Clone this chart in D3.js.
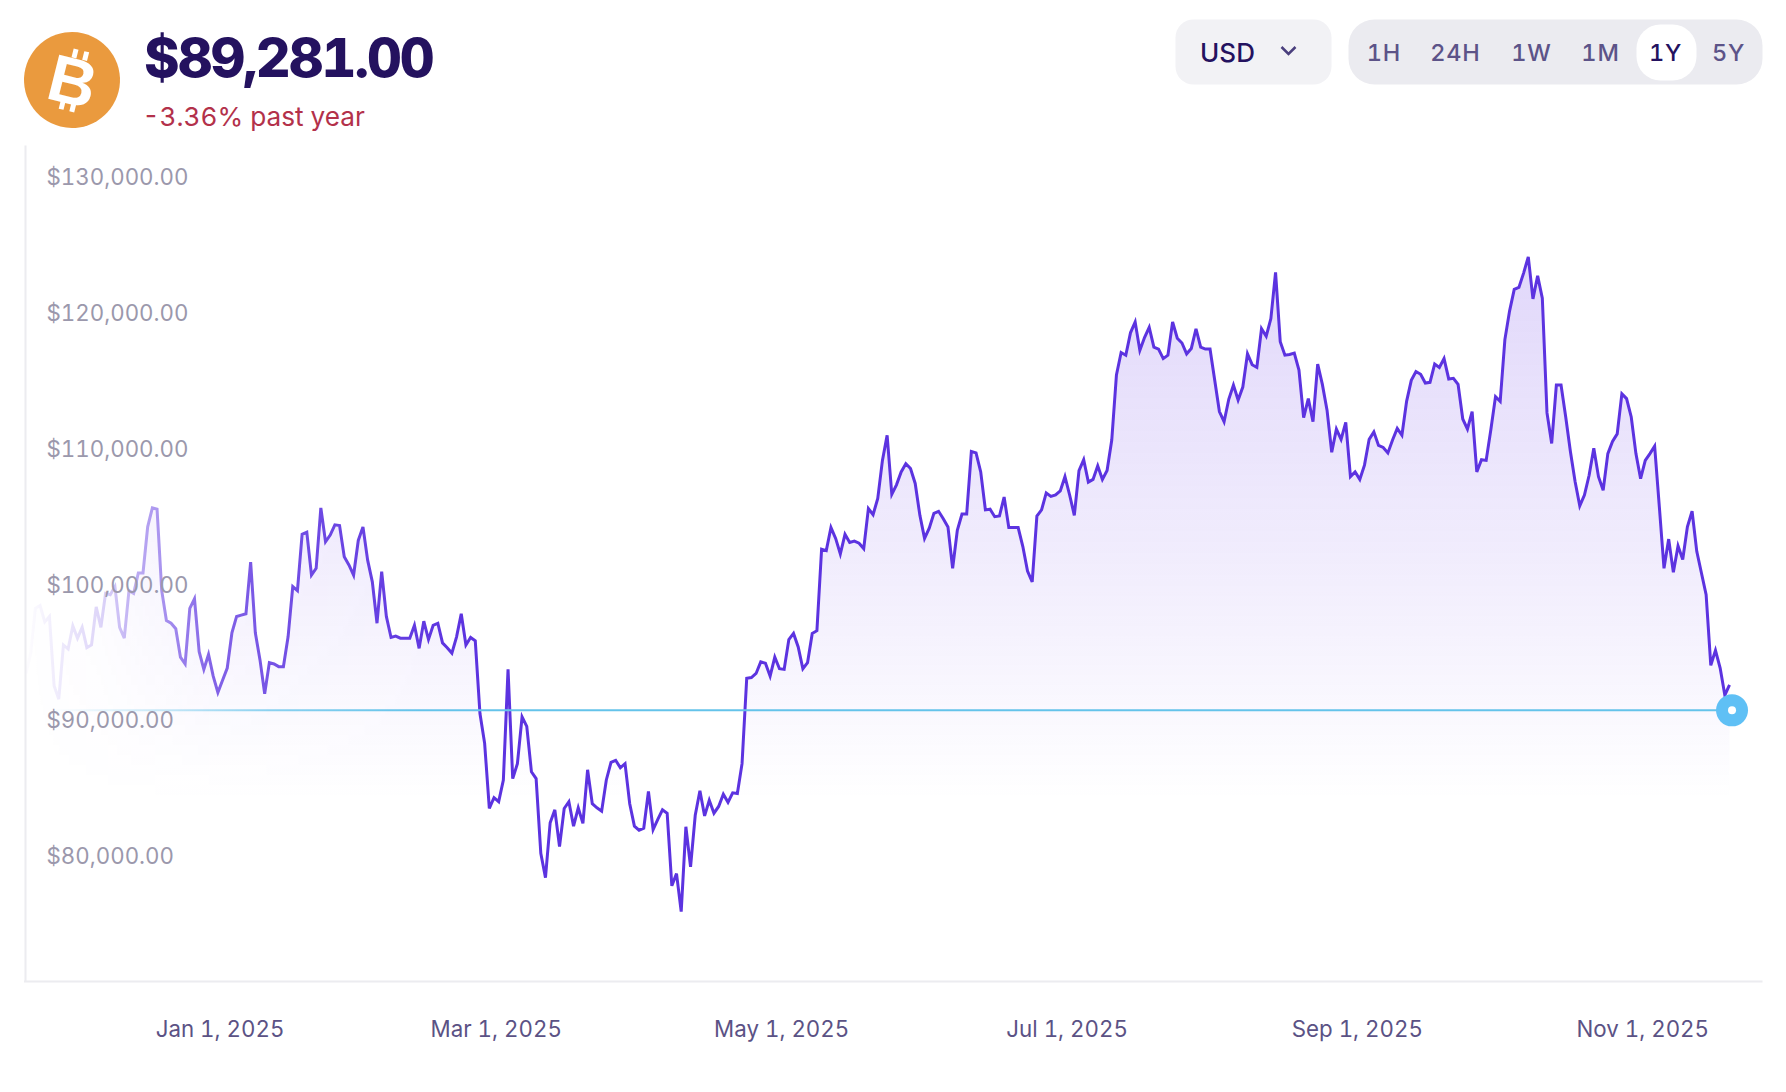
<!DOCTYPE html>
<html>
<head>
<meta charset="utf-8">
<script src="https://cdn.jsdelivr.net/npm/d3@7"></script>
<style>
  html, body { margin: 0; padding: 0; background: #fff; }
  svg { display: block; }
  text { font-family: Inter, "Noto Sans", sans-serif; font-variant-numeric: tabular-nums; font-feature-settings: "tnum" 1; }
</style>
</head>
<body>
<div id="chart"></div>
<script>
const startDate = new Date(2024, 10, 20);
// daily close in USD
const prices = [
  94000,95500,98800,99000,97800,98200,93100,92100,96100,95800,
  97500,96600,97400,95900,96100,98900,97400,99900,99800,100400,
  97400,96600,100100,99900,101400,101400,104800,106200,106100,100100,
  97900,97700,97300,95200,94700,98800,99500,95600,94300,95400,
  93800,92600,93500,94400,97000,98200,98300,98400,102200,97000,
  95000,92500,94800,94700,94500,94500,96700,100400,100100,104250,
  104400,101250,101750,106200,103700,104200,104950,104900,102600,102000,
  101250,103800,104800,102350,100750,97700,101500,98200,96650,96750,
  96600,96600,96600,97550,95850,97850,96500,97550,97700,96250,
  95900,95500,96700,98400,96100,96650,96400,91050,88850,84050,
  84850,84550,86150,94300,86250,87350,90800,90100,86750,86250,
  80750,78950,83000,83950,81250,84050,84550,82750,84100,82950,
  86900,84400,84100,83850,86150,87450,87600,87050,87350,84400,
  82750,82450,82600,85300,82500,83250,83950,83700,78350,79250,
  76450,82700,79750,83550,85350,83500,84650,83700,84200,85100,
  84500,85200,85150,87350,93650,93700,94000,94850,94750,93800,
  95200,94350,94300,96500,96950,95950,94350,94800,96950,97150,
  103150,103050,104750,103950,102800,104250,103650,103750,103600,103200,
  106150,105700,106900,109700,111550,107200,107900,108850,109450,109100,
  108000,105650,103950,104700,105800,105950,105400,104800,101750,104550,
  105750,105750,110350,110250,108850,106050,106100,105550,105600,107000,
  104750,104750,104750,103350,101550,100750,105600,106050,107300,107050,
  107150,107450,108500,107150,105650,108950,109750,108100,108300,109300,
  108300,108950,111200,116000,117650,117450,119100,119900,117800,118750,
  119500,118050,117900,117200,117450,119900,118700,118350,117550,117950,
  119400,118050,117900,117900,115600,113300,112550,114200,115250,114150,
  115100,117550,116750,116550,119400,118850,120150,123550,118450,117450,
  117500,117600,116350,112850,114250,112550,116800,115300,113400,110300,
  112000,111250,112500,108500,108850,108300,109350,111250,111800,110800,
  110650,110250,111200,112050,111550,114050,115600,116250,116050,115400,
  115450,116800,116550,117200,115700,115750,115300,112750,112000,113300,
  108850,109750,109700,111950,114400,114050,118600,120700,122300,122450,
  123500,124700,121600,123300,121650,113200,110950,115250,115250,112900,
  110350,108150,106350,107150,108600,110600,108500,107500,110200,111100,
  111650,114600,114250,112900,110200,108350,109700,110200,110750,106300,
  101750,103900,101450,103400,102400,104800,105950,103000,101400,99800,
  94600,95700,94400,92400,93150
];
const priceTicks = [80000, 90000, 100000, 110000, 120000, 130000];
const dateTicks = [
  new Date(2025, 0, 1), new Date(2025, 2, 1), new Date(2025, 4, 1),
  new Date(2025, 6, 1), new Date(2025, 8, 1), new Date(2025, 10, 1)
];
const ranges = ["1H", "24H", "1W", "1M", "1Y", "5Y"];
const rangeX = [1386.5, 1458, 1534, 1603, 1668, 1731];
const activeRange = "1Y";
const lastPriceLabel = "$89,281.00";
const changeLabel = "-3.36% past year";
const markerLevel = 91280;

const width = 1786, height = 1092;
const plot = { left: 25, right: 1765, top: 145, bottom: 981.5 };

const data = prices.map((p, i) => ({ date: d3.timeDay.offset(startDate, i), price: p }));
const lastDate = data[data.length - 1].date;

const svg = d3.select("#chart").append("svg")
    .attr("width", width)
    .attr("height", height);

const x = d3.scaleTime()
    .domain([startDate, lastDate])
    .range([26, 26 + 4.68 * (prices.length - 1)]);

const y = d3.scaleLinear()
    .domain([71300, 132940])
    .range([plot.bottom, plot.top]);

const defs = svg.append("defs");

const areaGrad = defs.append("linearGradient")
    .attr("id", "areaGrad")
    .attr("gradientUnits", "userSpaceOnUse")
    .attr("x1", 0).attr("x2", 0)
    .attr("y1", 260).attr("y2", 800);
areaGrad.append("stop").attr("offset", 0).attr("stop-color", "#6a3ce8").attr("stop-opacity", 0.2);
areaGrad.append("stop").attr("offset", 0.6).attr("stop-color", "#6a3ce8").attr("stop-opacity", 0.085);
areaGrad.append("stop").attr("offset", 1).attr("stop-color", "#6a3ce8").attr("stop-opacity", 0);

// left side of the chart fades out
const fadeGrad = defs.append("linearGradient")
    .attr("id", "fadeGrad")
    .attr("gradientUnits", "userSpaceOnUse")
    .attr("x1", 30).attr("x2", 460)
    .attr("y1", 0).attr("y2", 0);
[[0, 0.02], [0.05, 0.08], [0.16, 0.2], [0.28, 0.48], [0.42, 0.76], [0.63, 0.88], [1, 1]].forEach(s => {
    fadeGrad.append("stop").attr("offset", s[0]).attr("stop-color", "#fff").attr("stop-opacity", s[1]);
});
defs.append("mask")
    .attr("id", "fade")
    .attr("maskUnits", "userSpaceOnUse")
    .attr("x", 0).attr("y", 0).attr("width", width).attr("height", height)
  .append("rect")
    .attr("width", width).attr("height", height)
    .attr("fill", "url(#fadeGrad)");

const levelGrad = defs.append("linearGradient")
    .attr("id", "levelGrad")
    .attr("gradientUnits", "userSpaceOnUse")
    .attr("x1", 50).attr("x2", 420)
    .attr("y1", 0).attr("y2", 0);
[[0, 0], [0.3, 0.35], [0.6, 0.75], [1, 1]].forEach(s => {
    levelGrad.append("stop").attr("offset", s[0]).attr("stop-color", "#64c3ea").attr("stop-opacity", s[1]);
});

const series = svg.append("g").attr("mask", "url(#fade)");

const area = d3.area()
    .x(d => x(d.date))
    .y0(plot.bottom)
    .y1(d => y(d.price));

const line = d3.line()
    .x(d => x(d.date))
    .y(d => y(d.price));

series.append("path")
    .datum(data)
    .attr("d", area)
    .attr("fill", "url(#areaGrad)");

series.append("path")
    .datum(data)
    .attr("d", line)
    .attr("fill", "none")
    .attr("stroke", "#5c33e0")
    .attr("stroke-width", 3);

svg.append("line")
    .attr("x1", x(startDate))
    .attr("x2", x(lastDate))
    .attr("y1", y(markerLevel))
    .attr("y2", y(markerLevel))
    .attr("stroke", "url(#levelGrad)")
    .attr("stroke-width", 2);

// axes
const yAxis = d3.axisRight(y)
    .tickValues(priceTicks)
    .tickFormat(d3.format("$,.2f"))
    .tickSize(0)
    .tickPadding(21.5);

const yG = svg.append("g")
    .attr("transform", `translate(${plot.left},0)`)
    .call(yAxis);
yG.select(".domain").attr("stroke", "#ececf0").attr("stroke-width", 2);
yG.selectAll("text")
    .attr("dy", "0")
    .style("font-size", "22.3px")
    .style("fill", "#9b98ac");

const xAxis = d3.axisBottom(x)
    .tickValues(dateTicks)
    .tickFormat(d3.timeFormat("%b %-d, %Y"))
    .tickSize(0)
    .tickPadding(40);

const xG = svg.append("g")
    .attr("transform", `translate(0,${plot.bottom})`)
    .call(xAxis);
xG.select(".domain").remove();
xG.append("line")
    .attr("x1", plot.left - 1)
    .attr("x2", plot.right - 2.5)
    .attr("stroke", "#ececf0")
    .attr("stroke-width", 2);
xG.selectAll("text")
    .attr("dx", -3)
    .style("font-size", "22.3px")
    .style("fill", "#5b5285");

// marker on the last price
const marker = svg.append("g")
    .attr("transform", `translate(${x(lastDate) + 2.5},${y(markerLevel)})`);
marker.append("circle").attr("r", 16).attr("fill", "#5fc0f5");
marker.append("circle").attr("r", 4).attr("fill", "#fff");

// header
const logo = svg.append("g").attr("transform", "translate(72,80) rotate(14)");
logo.append("circle").attr("r", 48).attr("fill", "#ea9a3e");
logo.append("text")
    .attr("text-anchor", "middle")
    .attr("y", 24)
    .attr("x", 1)
    .style("font-family", "'Liberation Sans'")
    .style("font-weight", 700)
    .style("font-size", "66px")
    .style("fill", "#fff")
    .text("B");
[-6, 5].forEach(tx => {
    logo.append("rect").attr("x", tx).attr("y", -31).attr("width", 5).attr("height", 9).attr("fill", "#fff");
    logo.append("rect").attr("x", tx).attr("y", 22).attr("width", 5).attr("height", 9).attr("fill", "#fff");
});

svg.append("text")
    .attr("x", 144)
    .attr("y", 77)
    .style("font-weight", 800)
    .style("font-size", "54px")
    .style("letter-spacing", "-2px")
    .style("fill", "#24125f")
    .text(lastPriceLabel);

svg.append("text")
    .attr("x", 142.5)
    .attr("y", 126)
    .style("font-size", "26.2px")
    .style("fill", "#b3314a")
    .text(changeLabel);

// currency select
svg.append("rect")
    .attr("x", 1178 - 2.5).attr("y", 19.5)
    .attr("width", 156).attr("height", 65)
    .attr("rx", 18)
    .attr("fill", "#f2f2f5");
svg.append("text")
    .attr("x", 1230 - 2.5).attr("y", 52)
    .attr("text-anchor", "middle")
    .attr("dominant-baseline", "central")
    .style("font-size", "26px")
    .style("font-weight", 500)
    .style("fill", "#24125f")
    .text("USD");
svg.append("path")
    .attr("d", "M1281.5,47 L1288.5,54 L1295.5,47")
    .attr("fill", "none")
    .attr("stroke", "#4a3f7d")
    .attr("stroke-width", 2.5);

// range buttons
svg.append("rect")
    .attr("x", 1351 - 2.5).attr("y", 19.5)
    .attr("width", 414).attr("height", 65)
    .attr("rx", 26)
    .attr("fill", "#ebebf0");
svg.append("rect")
    .attr("x", 1639 - 2.5).attr("y", 24.5)
    .attr("width", 60).attr("height", 56)
    .attr("rx", 24)
    .attr("fill", "#fff");
svg.selectAll(".range")
    .data(ranges)
    .enter()
    .append("text")
    .attr("class", "range")
    .attr("x", (d, i) => rangeX[i] - 2.5)
    .attr("y", 52)
    .attr("text-anchor", "middle")
    .attr("dominant-baseline", "central")
    .style("font-size", "23.5px")
    .style("font-weight", 500)
    .style("letter-spacing", "0.8px")
    .style("fill", d => d === activeRange ? "#24125f" : "#5c5388")
    .text(d => d);
</script>
</body>
</html>
